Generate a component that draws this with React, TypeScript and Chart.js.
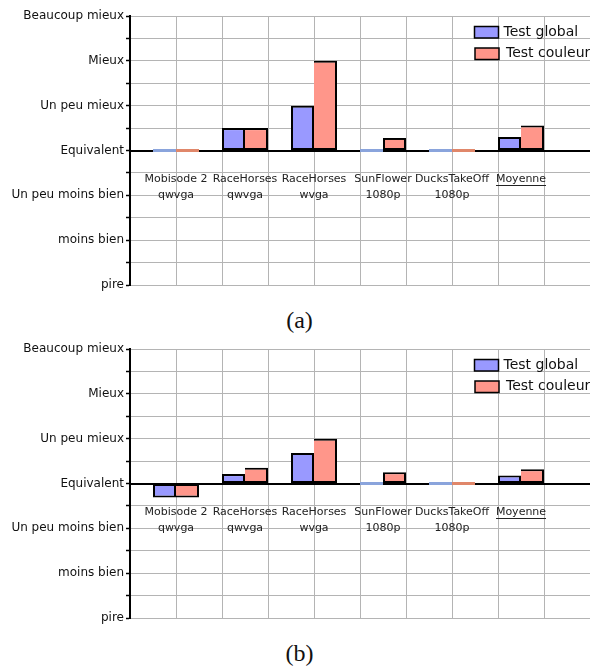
import React, { useEffect, useRef } from "react";
import { Chart, registerables } from "chart.js";

Chart.register(...registerables);

// ---------- data ----------
const categories: string[][] = [
  ["Mobisode 2", "qwvga"],
  ["RaceHorses", "qwvga"],
  ["RaceHorses", "wvga"],
  ["SunFlower", "1080p"],
  ["DucksTakeOff", "1080p"],
  ["Moyenne"],
];
const underlinedCategories = ["Moyenne"];
// levels from -3 (pire) to +3 (Beaucoup mieux)
const levels = [
  "pire",
  "moins bien",
  "Un peu moins bien",
  "Equivalent",
  "Un peu mieux",
  "Mieux",
  "Beaucoup mieux",
];
const seriesNames = ["Test global", "Test couleur"];
const globalA = [0, 0.5, 1.0, 0, 0, 0.3];
const couleurA = [0, 0.5, 2.0, 0.28, 0, 0.56];
const globalB = [-0.31, 0.21, 0.68, 0, 0, 0.18];
const couleurB = [-0.31, 0.35, 1.0, 0.25, 0, 0.32];
const captions = ["(a)", "(b)"];

// ---------- layout / style ----------
const GRID_COLS = 10;
const CAT_FIRST = 1;
const CAT_STEP = 1.5;
const catPos = (i: number) => CAT_FIRST + i * CAT_STEP;

const FILL = ["#9999ff", "#ff968a"];
const ZERO_FILL = ["#8aa4dc", "#e0876a"];
const GRID = "#b4b4b4";
const FONT = "'DejaVu Sans', sans-serif";
const LABEL_PAD = 21;
const LABEL_LINE = 16;

const cornerLegend = {
  id: "cornerLegend",
  afterDraw(chart: any) {
    const { ctx, chartArea } = chart;
    ctx.save();
    chart.data.datasets.forEach((ds: any, i: number) => {
      const bx = chartArea.right - 115.5 + (i === 1 ? 0.5 : 0);
      const by = chartArea.top + 10.5 + i * 21.5;
      ctx.fillStyle = FILL[i];
      ctx.fillRect(bx, by, 24, 11.5);
      ctx.strokeStyle = "#000";
      ctx.lineWidth = 1.5;
      ctx.strokeRect(bx, by, 24, 11.5);
      ctx.fillStyle = "#111";
      ctx.font = `14px ${FONT}`;
      ctx.textBaseline = "alphabetic";
      ctx.textAlign = "left";
      ctx.fillText(ds.label, bx + 29 + i * 2, by + 9);
    });
    ctx.restore();
  },
};

const underline = {
  id: "underline",
  afterDraw(chart: any) {
    const { ctx } = chart;
    const xs = chart.scales.x;
    const ys = chart.scales.y;
    const y0 = ys.getPixelForValue(0);
    ctx.save();
    ctx.font = `11px ${FONT}`;
    ctx.fillStyle = "#222";
    categories.forEach((lines, i) => {
      if (!underlinedCategories.includes(lines[0])) return;
      const cx = xs.getPixelForValue(catPos(i));
      const w = ctx.measureText(lines[0]).width;
      ctx.fillRect(Math.round(cx - w / 2), Math.round(y0 + LABEL_PAD + LABEL_LINE / 2 + 5), Math.round(w), 1);
    });
    ctx.restore();
  },
};

function makeConfig(g: number[], c: number[]): any {
  const series = [g, c];
  return {
    type: "bar",
    data: {
      datasets: series.map((vals, s) => ({
        label: seriesNames[s],
        data: vals.map((v, i) => ({ x: catPos(i), y: v })),
        backgroundColor: (ctx: any) => (ctx.parsed && ctx.parsed.y === 0 ? ZERO_FILL[s] : FILL[s]),
        borderColor: "#000",
        borderSkipped: false,
        borderWidth: (ctx: any) => {
          if (!ctx.parsed || ctx.parsed.y === 0) return 0;
          const leftShared = s === 1 && series[0][ctx.dataIndex] !== 0;
          return { top: 2, right: 2, bottom: 2, left: leftShared ? 0 : 2 };
        },
        minBarLength: 3,
        categoryPercentage: 2 / 3,
        barPercentage: 1,
        xAxisID: "x",
        yAxisID: "y",
      })),
    },
    options: {
      animation: false,
      responsive: false,
      maintainAspectRatio: false,
      devicePixelRatio: 1,
      layout: { padding: { top: 16, bottom: 15, left: 0, right: 0 } },
      plugins: { legend: { display: false }, tooltip: { enabled: false } },
      scales: {
        xg: {
          type: "linear",
          axis: "x",
          position: "bottom",
          min: 0,
          max: GRID_COLS,
          offset: false,
          ticks: { display: false, stepSize: 1 },
          grid: { color: GRID, lineWidth: 1, drawTicks: false, offset: false },
          border: { display: false },
        },
        x: {
          type: "linear",
          axis: "x",
          position: { y: 0 },
          min: 0,
          max: GRID_COLS,
          offset: false,
          afterBuildTicks: (scale: any) => {
            scale.ticks = categories.map((_, i) => ({ value: catPos(i) }));
          },
          ticks: {
            autoSkip: false,
            maxRotation: 0,
            minRotation: 0,
            callback: (_v: any, i: number) => categories[i],
            font: { family: FONT, size: 11, lineHeight: LABEL_LINE / 11 },
            color: "#222",
            padding: LABEL_PAD,
          },
          grid: { display: false, drawTicks: false, offset: false },
          border: { display: true, color: "#000", width: 2 },
        },
        y: {
          type: "linear",
          position: "left",
          min: -3,
          max: 3,
          afterFit: (scale: any) => {
            scale.width = 130;
          },
          ticks: {
            stepSize: 0.5,
            maxTicksLimit: 20,
            autoSkip: false,
            callback: (v: number) => (Number.isInteger(v) ? levels[v + 3] : ""),
            font: { family: FONT, size: 12 },
            color: "#111",
            padding: 2,
          },
          grid: { color: GRID, lineWidth: 1, tickColor: "#000", tickLength: 4, tickWidth: 1.5 },
          border: { color: "#000", width: 2 },
        },
      },
    },
    plugins: [cornerLegend, underline],
  };
}

export default function App() {
  const refA = useRef<HTMLCanvasElement>(null);
  const refB = useRef<HTMLCanvasElement>(null);
  useEffect(() => {
    const a = new Chart(refA.current as HTMLCanvasElement, makeConfig(globalA, couleurA));
    const b = new Chart(refB.current as HTMLCanvasElement, makeConfig(globalB, couleurB));
    return () => {
      a.destroy();
      b.destroy();
    };
  }, []);
  const captionStyle: React.CSSProperties = {
    position: "absolute",
    left: 0,
    width: 599,
    textAlign: "center",
    fontFamily: "'Liberation Serif', 'Times New Roman', serif",
    fontSize: 24,
    lineHeight: "28px",
    color: "#111",
  };
  return (
    <div style={{ position: "absolute", left: 0, top: 0, width: 590, height: 666, background: "#fff", overflow: "hidden" }}>
      <canvas ref={refA} width={590} height={300} style={{ position: "absolute", left: 0, top: 0, width: 590, height: 300 }} />
      <div style={{ ...captionStyle, top: 306 }}>{captions[0]}</div>
      <canvas ref={refB} width={590} height={300} style={{ position: "absolute", left: 0, top: 333, width: 590, height: 300 }} />
      <div style={{ ...captionStyle, top: 639 }}>{captions[1]}</div>
    </div>
  );
}
